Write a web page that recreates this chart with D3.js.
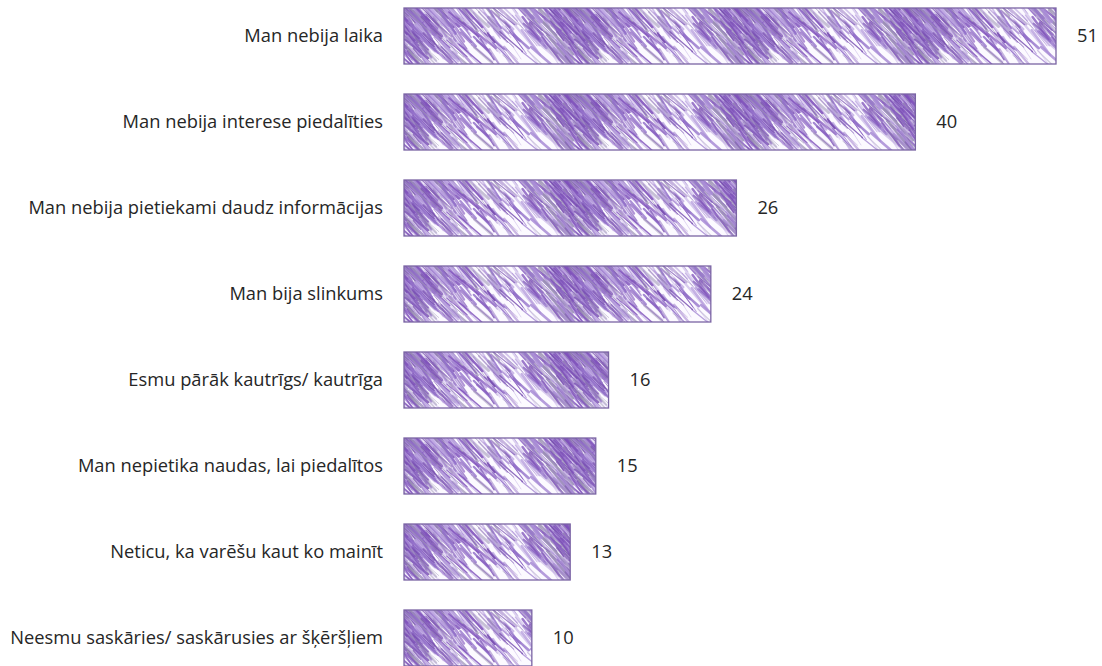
<!DOCTYPE html>
<html>
<head>
<meta charset="utf-8">
<script src="https://cdn.jsdelivr.net/npm/d3@7/dist/d3.min.js"></script>
<style>
  html, body { margin: 0; padding: 0; background: #ffffff; }
  svg { display: block; }
</style>
</head>
<body>
<svg id="chart" width="1102" height="666"></svg>
<script>
const categories = [
  "Man nebija laika",
  "Man nebija interese piedalīties",
  "Man nebija pietiekami daudz informācijas",
  "Man bija slinkums",
  "Esmu pārāk kautrīgs/ kautrīga",
  "Man nepietika naudas, lai piedalītos",
  "Neticu, ka varēšu kaut ko mainīt",
  "Neesmu saskāries/ saskārusies ar šķēršļiem"
];
const values = [51, 40, 26, 24, 16, 15, 13, 10];

const svg = d3.select("#chart");
const FONT = "'Open Sans', sans-serif";

const x = d3.scaleLinear().domain([0, 51]).range([404, 1056]);
const pi = 30 / 86, po = pi / 2;
const y = d3.scaleBand().domain(categories)
  .range([8 - po * 86, 8 - po * 86 + 8 * 86])
  .paddingInner(pi).paddingOuter(po);

// font size matched to the reference label width
const probe = svg.append("text").attr("font-family", FONT).attr("font-size", 20)
  .text(categories[7]);
const fs = 20 * 373 / probe.node().getComputedTextLength();
probe.remove();

// sketchy hatch texture (decorative, deterministic)
function hash(n) { const s = Math.sin(n * 127.1 + 311.7) * 43758.5453; return s - Math.floor(s); }
const defs = svg.append("defs");
const tileW = 170, tileH = y.step();
const pat = defs.append("pattern")
  .attr("id", "hatch")
  .attr("patternUnits", "userSpaceOnUse")
  .attr("x", 404).attr("y", y(categories[0]))
  .attr("width", tileW).attr("height", tileH);
pat.append("rect").attr("width", tileW).attr("height", tileH).attr("fill", "#fcfaff");
const palette = ["#7e50ba", "#9270c9", "#a98cd6", "#bfa9e3", "#998fb2", "#7348ad"];
const bh = y.bandwidth();
for (let i = 0; i < 600; i++) {
  const cx = hash(i) * (tileW + 40) - 20;
  const band = Math.sin((cx / tileW) * Math.PI * 2 + 0.8) * 0.5 + 0.5;
  let cy = Math.pow(hash(i + 2000), 1.35) * bh * 0.95;
  if (hash(i + 1000) > 0.5 + band * 0.5) continue;
  const len = 10 + hash(i + 3000) * 36;
  const ang = (38 + hash(i + 4000) * 20) * Math.PI / 180;
  const dx = Math.cos(ang) * len / 2, dy = Math.sin(ang) * len / 2;
  for (const off of [0, tileW, -tileW]) {
    pat.append("line")
      .attr("x1", cx - dx + off).attr("y1", cy - dy)
      .attr("x2", cx + dx + off).attr("y2", cy + dy)
      .attr("stroke", palette[Math.floor(hash(i + 5000) * palette.length)])
      .attr("stroke-width", 0.7 + hash(i + 6000) * 2.0)
      .attr("stroke-linecap", "round")
      .attr("stroke-opacity", 0.35 + hash(i + 7000) * 0.5);
  }
}

const g = svg.append("g");
g.selectAll("rect.bar").data(categories).join("rect")
  .attr("class", "bar")
  .attr("x", x(0))
  .attr("y", d => y(d))
  .attr("width", (d, i) => x(values[i]) - x(0))
  .attr("height", y.bandwidth())
  .attr("fill", "url(#hatch)")
  .attr("stroke", "#7a64a4")
  .attr("stroke-width", 1.3);

g.selectAll("text.cat").data(categories).join("text")
  .attr("class", "cat")
  .attr("x", 383)
  .attr("y", d => y(d) + y.bandwidth() / 2)
  .attr("dy", "0.35em")
  .attr("text-anchor", "end")
  .attr("font-family", FONT)
  .attr("font-size", fs)
  .attr("fill", "#262626")
  .text(d => d);

g.selectAll("text.val").data(categories).join("text")
  .attr("class", "val")
  .attr("x", (d, i) => x(values[i]) + 21)
  .attr("y", d => y(d) + y.bandwidth() / 2)
  .attr("dy", "0.35em")
  .attr("text-anchor", "start")
  .attr("font-family", FONT)
  .attr("font-size", fs)
  .attr("fill", "#262626")
  .text((d, i) => values[i]);
</script>
</body>
</html>
